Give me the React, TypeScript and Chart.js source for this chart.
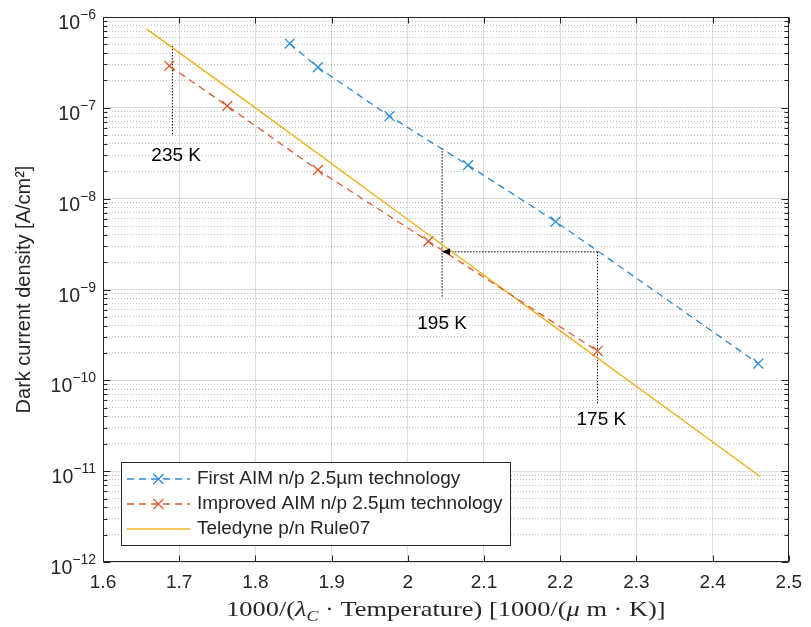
import React, { useEffect, useRef } from 'react';
import { Chart, registerables } from 'chart.js';

Chart.register(...registerables);

// ---------- data ----------
const firstAimX = [1.845, 1.882, 1.976, 2.079, 2.194, 2.46];
const firstAimY = [5.1e-7, 2.8e-7, 8.1e-8, 2.34e-8, 5.6e-9, 1.53e-10];

const improvedX = [1.687, 1.763, 1.882, 2.027, 2.249];
const improvedY = [2.9e-7, 1.05e-7, 2.07e-8, 3.4e-9, 2.1e-10];

const rule07X = [1.657, 1.8, 2.0, 2.2, 2.462];
const rule07Y = [7.4e-7, 1.0e-7, 5.9e-9, 3.5e-10, 8.8e-12];

const seriesNames = [
  'First AIM n/p 2.5µm technology',
  'Improved AIM n/p 2.5µm technology',
  'Teledyne p/n Rule07',
];

// temperature guides
const guide235X = [1.691, 1.691];
const guide235Y = [4.8e-7, 4.9e-8];
const guide195X = [2.045, 2.045];
const guide195Y = [3.6e-8, 8.0e-10];
const guideArrowX = [2.249, 2.045];
const guideArrowY = [2.6e-9, 2.6e-9];
const guide175X = [2.249, 2.249];
const guide175Y = [2.6e-9, 5.6e-11];

const tempLabels = ['235 K', '195 K', '175 K'];
const tempLabelX = [1.696, 2.045, 2.254];
const tempLabelY = [2.95e-8, 4.2e-10, 3.65e-11];

const xTickValues = [1.6, 1.7, 1.8, 1.9, 2.0, 2.1, 2.2, 2.3, 2.4, 2.5];
const xTickLabels = ['1.6', '1.7', '1.8', '1.9', '2', '2.1', '2.2', '2.3', '2.4', '2.5'];
const yDecades = [-12, -11, -10, -9, -8, -7, -6];
const yTickBase = '10';
const yTickExponents = ['\u221212', '\u221211', '\u221210', '\u22129', '\u22128', '\u22127', '\u22126'];

const yTitle = 'Dark current density [A/cm²]';
// x title pieces: text, style ('r' roman, 'i' italic, 's' italic subscript)
const xTitleParts: [string, string][] = [
  ['1000/(', 'r'],
  ['λ', 'i'],
  ['C', 's'],
  [' · Temperature) [1000/(', 'r'],
  ['μ', 'i'],
  [' m · K)]', 'r'],
];

// ---------- styles ----------
const FONT = '"Liberation Sans", Arial, Helvetica, sans-serif';
const SERIF = '"Liberation Serif", "DejaVu Serif", serif';
const AXIS_COLOR = '#262626';
const MAJOR_GRID = 'rgba(38,38,38,0.15)';
const MINOR_GRID = 'rgba(38,38,38,0.3)';
const COLORS = ['#2f8ad0', '#dc5a2b', '#edb120'];
const SERIES_DASH = [7, 5];

const pts = (xs: number[], ys: number[]) => xs.map((x, i) => ({ x, y: ys[i] }));

function drawCross(ctx: CanvasRenderingContext2D, x: number, y: number, r: number) {
  ctx.beginPath();
  ctx.moveTo(x - r, y - r);
  ctx.lineTo(x + r, y + r);
  ctx.moveTo(x - r, y + r);
  ctx.lineTo(x + r, y - r);
  ctx.stroke();
}

export default function App() {
  const ref = useRef<HTMLCanvasElement>(null);

  useEffect(() => {
    const canvas = ref.current;
    if (!canvas) return;

    const decor = {
      id: 'decor',
      afterDatasetsDraw(chart: any) {
        const ctx: CanvasRenderingContext2D = chart.ctx;
        const xs = chart.scales.x;
        const ys = chart.scales.y;
        ctx.save();
        // arrow head
        const tipX = xs.getPixelForValue(guideArrowX[1]);
        const tipY = ys.getPixelForValue(guideArrowY[1]);
        ctx.fillStyle = '#000';
        ctx.beginPath();
        ctx.moveTo(tipX, tipY);
        ctx.lineTo(tipX + 8, tipY - 3.5);
        ctx.lineTo(tipX + 8, tipY + 3.5);
        ctx.closePath();
        ctx.fill();
        // temperature labels
        ctx.font = `19px ${FONT}`;
        ctx.textAlign = 'center';
        ctx.textBaseline = 'middle';
        tempLabels.forEach((t, i) => {
          ctx.fillText(t, xs.getPixelForValue(tempLabelX[i]), ys.getPixelForValue(tempLabelY[i]));
        });
        ctx.restore();
      },
      afterDraw(chart: any) {
        const ctx: CanvasRenderingContext2D = chart.ctx;
        const xs = chart.scales.x;
        const ys = chart.scales.y;
        const { left, right, top, bottom } = chart.chartArea;
        const L = Math.round(left) + 0.5;
        const R = Math.round(right) - 0.5;
        const T = Math.round(top) + 0.5;
        const B = Math.round(bottom) - 0.5;
        ctx.save();
        // box
        ctx.strokeStyle = AXIS_COLOR;
        ctx.lineWidth = 1;
        ctx.setLineDash([]);
        ctx.strokeRect(L, T, R - L, B - T);
        // inward ticks
        ctx.beginPath();
        xTickValues.forEach((v) => {
          const px = Math.round(xs.getPixelForValue(v)) + 0.5;
          ctx.moveTo(px, B);
          ctx.lineTo(px, B - 6);
          ctx.moveTo(px, T);
          ctx.lineTo(px, T + 6);
        });
        ys.ticks.forEach((t: any) => {
          const py = Math.round(ys.getPixelForValue(t.value)) + 0.5;
          const len = t.major ? 7 : 4;
          ctx.moveTo(L, py);
          ctx.lineTo(L + len, py);
          ctx.moveTo(R, py);
          ctx.lineTo(R - len, py);
        });
        ctx.stroke();

        // y tick labels with superscripts
        ctx.fillStyle = AXIS_COLOR;
        ctx.textBaseline = 'alphabetic';
        ctx.textAlign = 'right';
        const labelRight = left - 7;
        yDecades.forEach((e, i) => {
          const py = ys.getPixelForValue(Math.pow(10, e));
          ctx.font = `14px ${FONT}`;
          const ew = ctx.measureText(yTickExponents[i]).width;
          ctx.fillText(yTickExponents[i], labelRight, py + 2);
          ctx.font = `19.5px ${FONT}`;
          ctx.fillText(yTickBase, labelRight - ew, py + 12);
        });

        // x title (serif, widened to mimic Computer Modern proportions)
        const size = 22;
        const stretch = 1.2;
        const fontFor = (s: string) =>
          s === 'r' ? `${size}px ${SERIF}` : s === 'i' ? `italic ${size}px ${SERIF}` : `italic ${Math.round(size * 0.7)}px ${SERIF}`;
        let total = 0;
        const widths = xTitleParts.map(([t, s]) => {
          ctx.font = fontFor(s);
          const w = ctx.measureText(t).width;
          total += w;
          return w;
        });
        const base = 616;
        const centerX = (left + right) / 2;
        ctx.save();
        ctx.translate(centerX, 0);
        ctx.scale(stretch, 1);
        let cx = -total / 2;
        ctx.textAlign = 'left';
        ctx.fillStyle = AXIS_COLOR;
        xTitleParts.forEach(([t, s], i) => {
          ctx.font = fontFor(s);
          ctx.fillText(t, cx, s === 's' ? base + 5 : base);
          cx += widths[i];
        });
        ctx.restore();

        // legend
        const lx = 121, ly = 462, lw = 389, lh = 83;
        ctx.fillStyle = '#ffffff';
        ctx.fillRect(lx, ly, lw, lh);
        ctx.strokeStyle = AXIS_COLOR;
        ctx.lineWidth = 1;
        ctx.strokeRect(lx + 0.5, ly + 0.5, lw, lh);
        const rows = [479, 504, 529];
        ctx.font = `19px ${FONT}`;
        ctx.textBaseline = 'middle';
        ctx.textAlign = 'left';
        seriesNames.forEach((name, i) => {
          const y = rows[i];
          ctx.strokeStyle = COLORS[i];
          ctx.lineWidth = 1.3;
          ctx.setLineDash(i < 2 ? SERIES_DASH : []);
          ctx.beginPath();
          ctx.moveTo(127, y);
          ctx.lineTo(190, y);
          ctx.stroke();
          ctx.setLineDash([]);
          if (i < 2) drawCross(ctx, 158.5, y, 5);
          ctx.fillStyle = AXIS_COLOR;
          ctx.fillText(name, 197, y);
        });
        ctx.restore();
      },
    };

    const guideStyle = {
      borderColor: '#000000',
      borderWidth: 1,
      borderDash: [1.5, 1.5],
      pointRadius: 0,
      fill: false,
      tension: 0,
    };

    const chart = new Chart(canvas, {
      type: 'line',
      data: {
        datasets: [
          {
            label: seriesNames[0],
            data: pts(firstAimX, firstAimY),
            borderColor: COLORS[0],
            borderWidth: 1.3,
            borderDash: SERIES_DASH,
            pointStyle: 'crossRot',
            pointRadius: 7,
            pointBorderColor: COLORS[0],
            pointBorderWidth: 1.3,
            fill: false,
          },
          {
            label: seriesNames[1],
            data: pts(improvedX, improvedY),
            borderColor: COLORS[1],
            borderWidth: 1.3,
            borderDash: SERIES_DASH,
            pointStyle: 'crossRot',
            pointRadius: 7,
            pointBorderColor: COLORS[1],
            pointBorderWidth: 1.3,
            fill: false,
          },
          {
            label: seriesNames[2],
            data: pts(rule07X, rule07Y),
            borderColor: COLORS[2],
            borderWidth: 1.4,
            pointRadius: 0,
            fill: false,
          },
          { label: '235K', data: pts(guide235X, guide235Y), ...guideStyle },
          { label: '195K', data: pts(guide195X, guide195Y), ...guideStyle },
          { label: 'arrow', data: pts(guideArrowX, guideArrowY), ...guideStyle },
          { label: '175K', data: pts(guide175X, guide175Y), ...guideStyle },
        ] as any,
      },
      options: {
        animation: false,
        responsive: false,
        maintainAspectRatio: false,
        layout: { padding: { top: 17, right: 16, left: 0, bottom: 0 } },
        plugins: {
          legend: { display: false },
          tooltip: { enabled: false },
        },
        scales: {
          x: {
            type: 'linear',
            min: 1.6,
            max: 2.5,
            afterBuildTicks: (scale: any) => {
              scale.ticks = xTickValues.map((v) => ({ value: v }));
            },
            afterFit: (scale: any) => {
              scale.height = 65;
            },
            ticks: {
              font: { size: 19, family: FONT },
              color: AXIS_COLOR,
              padding: 9,
              maxRotation: 0,
              autoSkip: false,
              callback: (_v: any, i: number) => xTickLabels[i],
            },
            grid: { color: MAJOR_GRID, drawTicks: false, lineWidth: 1 },
            border: { display: false },
          },
          y: {
            type: 'logarithmic',
            min: 1e-12,
            max: 1e-6,
            afterBuildTicks: (scale: any) => {
              const t: any[] = [];
              yDecades.forEach((e, idx) => {
                if (idx === yDecades.length - 1) {
                  t.push({ value: Math.pow(10, e), major: true });
                  return;
                }
                for (let k = 1; k <= 9; k++) t.push({ value: k * Math.pow(10, e), major: k === 1 });
              });
              scale.ticks = t;
            },
            afterFit: (scale: any) => {
              scale.width = 103;
            },
            ticks: { display: false },
            grid: {
              drawTicks: false,
              lineWidth: 1,
              color: (c: any) => (c.tick && c.tick.major ? MAJOR_GRID : MINOR_GRID),
            },
            border: {
              display: false,
              dash: (c: any) => (c.tick && !c.tick.major ? [1, 2] : []),
            },
            title: {
              display: true,
              text: yTitle,
              color: AXIS_COLOR,
              font: { size: 20, family: FONT },
              padding: { top: 12, bottom: 0 },
            },
          },
        },
      } as any,
      plugins: [decor],
    });

    return () => chart.destroy();
  }, []);

  return (
    <div style={{ position: 'fixed', left: 0, top: 0, width: 811, height: 627, background: '#ffffff' }}>
      <canvas ref={ref} width={811} height={627} style={{ display: 'block', width: 811, height: 627 }} />
    </div>
  );
}
